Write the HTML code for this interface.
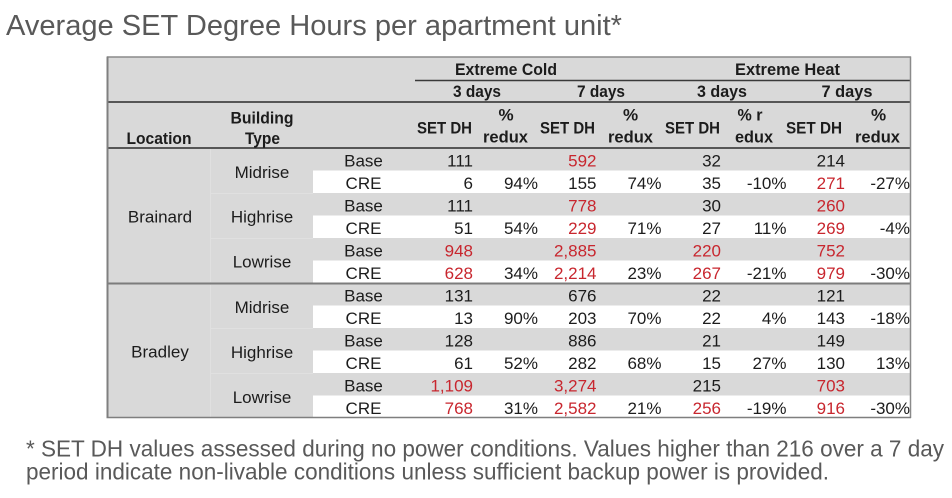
<!DOCTYPE html>
<html>
<head>
<meta charset="utf-8">
<style>
  html, body { margin: 0; padding: 0; background: #ffffff; }
  svg { display: block; }
  .t { font-family: "Liberation Sans", Arial, sans-serif; }
  .b { font-family: "Liberation Sans", Arial, sans-serif; font-size: 17px; fill: #1c1c1c; }
  .h { font-family: "Liberation Sans", Arial, sans-serif; font-size: 17px; font-weight: bold; fill: #1c1c1c; }
  .r { fill: #c8262e; }
</style>
</head>
<body>
<svg width="952" height="498" viewBox="0 0 952 498" xmlns="http://www.w3.org/2000/svg">
  <rect x="0" y="0" width="952" height="498" fill="#ffffff"/>

  <!-- Title -->
  <text class="t" x="6" y="35" font-size="29" fill="#595959" textLength="616" lengthAdjust="spacingAndGlyphs">Average SET Degree Hours per apartment unit*</text>

  <!-- Table background -->
  <rect x="107" y="57" width="804" height="361" fill="#d9d9d9"/>
  <!-- White CRE bands -->
  <rect x="313" y="170.5" width="598" height="22.5" fill="#ffffff"/>
  <rect x="313" y="215.5" width="598" height="22.5" fill="#ffffff"/>
  <rect x="313" y="260.5" width="598" height="22.5" fill="#ffffff"/>
  <rect x="313" y="305.5" width="598" height="22.5" fill="#ffffff"/>
  <rect x="313" y="350.5" width="598" height="22.5" fill="#ffffff"/>
  <rect x="313" y="395.5" width="598" height="22.5" fill="#ffffff"/>

  <!-- faint inner lines -->
  <g stroke="#e0e0e0" stroke-width="1">
    <line x1="210.5" y1="149" x2="210.5" y2="282"/>
    <line x1="210.5" y1="285" x2="210.5" y2="417"/>
    <line x1="211" y1="193.5" x2="313" y2="193.5"/>
    <line x1="211" y1="238.5" x2="313" y2="238.5"/>
    <line x1="211" y1="328.5" x2="313" y2="328.5"/>
    <line x1="211" y1="373.5" x2="313" y2="373.5"/>
  </g>

  <!-- Borders and rules -->
  <line x1="107" y1="57" x2="911" y2="57" stroke="#8a8a8a" stroke-width="1.5"/>
  <line x1="415" y1="80.5" x2="910" y2="80.5" stroke="#3a3a3a" stroke-width="1.5"/>
  <line x1="107" y1="102" x2="911" y2="102" stroke="#2a2a2a" stroke-width="1.5"/>
  <line x1="107" y1="148" x2="911" y2="148" stroke="#2a2a2a" stroke-width="1.5"/>
  <line x1="107" y1="283.5" x2="911" y2="283.5" stroke="#7c7c7c" stroke-width="2"/>
  <line x1="107.5" y1="56.5" x2="107.5" y2="418" stroke="#7f7f7f" stroke-width="2"/>
  <line x1="910.5" y1="56.5" x2="910.5" y2="418" stroke="#8a8a8a" stroke-width="1.5"/>
  <line x1="106.5" y1="417.5" x2="911" y2="417.5" stroke="#7f7f7f" stroke-width="1.5"/>

  <!-- Header -->
  <g class="h" text-anchor="middle">
    <text x="506" y="75" textLength="102" lengthAdjust="spacingAndGlyphs">Extreme Cold</text>
    <text x="787.5" y="75" textLength="105" lengthAdjust="spacingAndGlyphs">Extreme Heat</text>
    <text x="477" y="97" textLength="48" lengthAdjust="spacingAndGlyphs">3 days</text>
    <text x="601" y="97" textLength="48" lengthAdjust="spacingAndGlyphs">7 days</text>
    <text x="722" y="97" textLength="50" lengthAdjust="spacingAndGlyphs">3 days</text>
    <text x="847" y="97" textLength="51" lengthAdjust="spacingAndGlyphs">7 days</text>

    <text x="262" y="123.5" textLength="63" lengthAdjust="spacingAndGlyphs">Building</text>
    <text x="159" y="144" textLength="65" lengthAdjust="spacingAndGlyphs">Location</text>
    <text x="262.5" y="144" textLength="35" lengthAdjust="spacingAndGlyphs">Type</text>

    <text x="444.5" y="133.5" textLength="55" lengthAdjust="spacingAndGlyphs">SET DH</text>
    <text x="567.5" y="133.5" textLength="55" lengthAdjust="spacingAndGlyphs">SET DH</text>
    <text x="692.5" y="133.5" textLength="55" lengthAdjust="spacingAndGlyphs">SET DH</text>
    <text x="814" y="133.5" textLength="56" lengthAdjust="spacingAndGlyphs">SET DH</text>

    <text x="506" y="120.5">%</text>
    <text x="630.5" y="120.5">%</text>
    <text x="750" y="120.5" textLength="25" lengthAdjust="spacingAndGlyphs">% r</text>
    <text x="878.5" y="120.5">%</text>

    <text x="505.5" y="142.5" textLength="45" lengthAdjust="spacingAndGlyphs">redux</text>
    <text x="630.5" y="142.5" textLength="45" lengthAdjust="spacingAndGlyphs">redux</text>
    <text x="754" y="142.5" textLength="38" lengthAdjust="spacingAndGlyphs">edux</text>
    <text x="877.5" y="142.5" textLength="45" lengthAdjust="spacingAndGlyphs">redux</text>
  </g>

  <!-- Location / Type labels -->
  <g class="b" text-anchor="middle">
    <text x="160" y="222.5">Brainard</text>
    <text x="160" y="357.5">Bradley</text>
    <text x="262" y="178">Midrise</text>
    <text x="262" y="222.5">Highrise</text>
    <text x="262" y="267.5">Lowrise</text>
    <text x="262" y="313">Midrise</text>
    <text x="262" y="358">Highrise</text>
    <text x="262" y="403">Lowrise</text>
  </g>

  <!-- Base / CRE -->
  <g class="b" text-anchor="middle">
    <text x="363.5" y="166.5">Base</text>
    <text x="363.5" y="189">CRE</text>
    <text x="363.5" y="211.5">Base</text>
    <text x="363.5" y="234">CRE</text>
    <text x="363.5" y="256.5">Base</text>
    <text x="363.5" y="279">CRE</text>
    <text x="363.5" y="301.5">Base</text>
    <text x="363.5" y="324">CRE</text>
    <text x="363.5" y="346.5">Base</text>
    <text x="363.5" y="369">CRE</text>
    <text x="363.5" y="391.5">Base</text>
    <text x="363.5" y="414">CRE</text>
  </g>

  <!-- Data values (right aligned) -->
  <g class="b" text-anchor="end">
    <text x="473" y="166.5">111</text>
    <text x="596.5" y="166.5" class="r">592</text>
    <text x="721" y="166.5">32</text>
    <text x="845" y="166.5">214</text>

    <text x="473" y="189">6</text>
    <text x="538" y="189">94%</text>
    <text x="596.5" y="189">155</text>
    <text x="661.5" y="189">74%</text>
    <text x="721" y="189">35</text>
    <text x="786.5" y="189">-10%</text>
    <text x="845" y="189" class="r">271</text>
    <text x="910" y="189">-27%</text>

    <text x="473" y="211.5">111</text>
    <text x="596.5" y="211.5" class="r">778</text>
    <text x="721" y="211.5">30</text>
    <text x="845" y="211.5" class="r">260</text>

    <text x="473" y="234">51</text>
    <text x="538" y="234">54%</text>
    <text x="596.5" y="234" class="r">229</text>
    <text x="661.5" y="234">71%</text>
    <text x="721" y="234">27</text>
    <text x="786.5" y="234">11%</text>
    <text x="845" y="234" class="r">269</text>
    <text x="910" y="234">-4%</text>

    <text x="473" y="256.5" class="r">948</text>
    <text x="596.5" y="256.5" class="r">2,885</text>
    <text x="721" y="256.5" class="r">220</text>
    <text x="845" y="256.5" class="r">752</text>

    <text x="473" y="279" class="r">628</text>
    <text x="538" y="279">34%</text>
    <text x="596.5" y="279" class="r">2,214</text>
    <text x="661.5" y="279">23%</text>
    <text x="721" y="279" class="r">267</text>
    <text x="786.5" y="279">-21%</text>
    <text x="845" y="279" class="r">979</text>
    <text x="910" y="279">-30%</text>

    <text x="473" y="301.5">131</text>
    <text x="596.5" y="301.5">676</text>
    <text x="721" y="301.5">22</text>
    <text x="845" y="301.5">121</text>

    <text x="473" y="324">13</text>
    <text x="538" y="324">90%</text>
    <text x="596.5" y="324">203</text>
    <text x="661.5" y="324">70%</text>
    <text x="721" y="324">22</text>
    <text x="786.5" y="324">4%</text>
    <text x="845" y="324">143</text>
    <text x="910" y="324">-18%</text>

    <text x="473" y="346.5">128</text>
    <text x="596.5" y="346.5">886</text>
    <text x="721" y="346.5">21</text>
    <text x="845" y="346.5">149</text>

    <text x="473" y="369">61</text>
    <text x="538" y="369">52%</text>
    <text x="596.5" y="369">282</text>
    <text x="661.5" y="369">68%</text>
    <text x="721" y="369">15</text>
    <text x="786.5" y="369">27%</text>
    <text x="845" y="369">130</text>
    <text x="910" y="369">13%</text>

    <text x="473" y="391.5" class="r">1,109</text>
    <text x="596.5" y="391.5" class="r">3,274</text>
    <text x="721" y="391.5">215</text>
    <text x="845" y="391.5" class="r">703</text>

    <text x="473" y="414" class="r">768</text>
    <text x="538" y="414">31%</text>
    <text x="596.5" y="414" class="r">2,582</text>
    <text x="661.5" y="414">21%</text>
    <text x="721" y="414" class="r">256</text>
    <text x="786.5" y="414">-19%</text>
    <text x="845" y="414" class="r">916</text>
    <text x="910" y="414">-30%</text>
  </g>

  <!-- Footnote -->
  <text class="t" x="26" y="456.5" font-size="23.5" fill="#595959" textLength="918" lengthAdjust="spacingAndGlyphs">* SET DH values assessed during no power conditions. Values higher than 216 over a 7 day</text>
  <text class="t" x="26" y="479.5" font-size="23.5" fill="#595959" textLength="803" lengthAdjust="spacingAndGlyphs">period indicate non-livable conditions unless sufficient backup power is provided.</text>
</svg>
</body>
</html>
